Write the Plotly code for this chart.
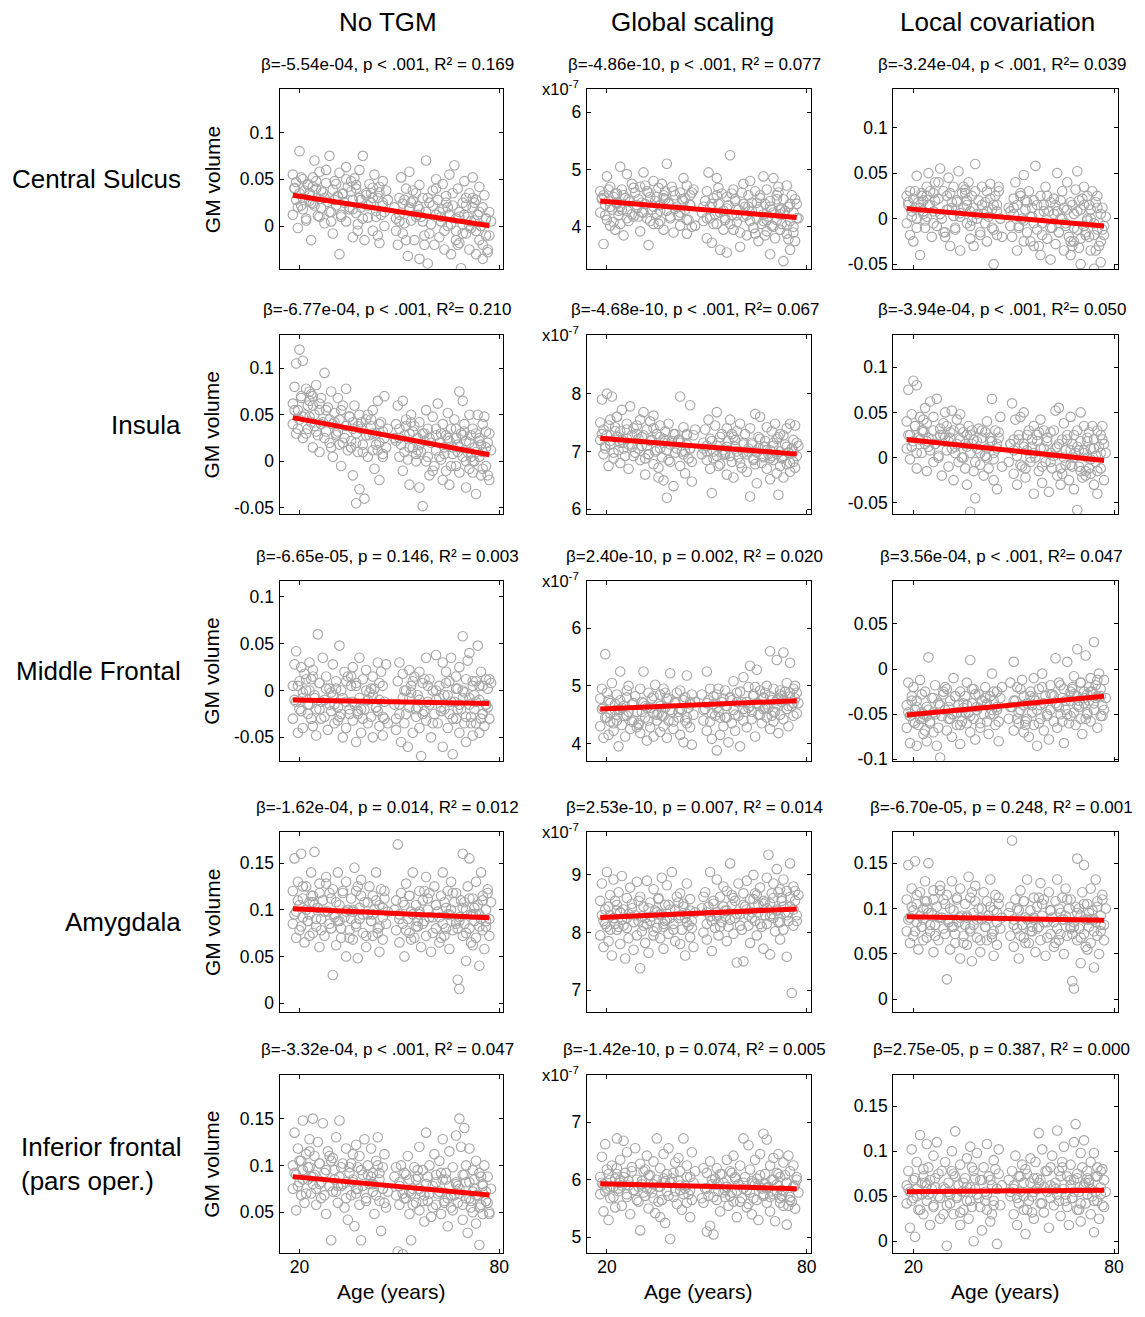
import plotly.graph_objects as go

# ---------------- data ----------------
ages = [
    18, 18, 18.5, 19, 19, 19.5, 20, 20, 20.5, 21, 21, 21.5, 22, 22.5, 23,
    23, 23.5, 24, 24, 24.5, 25, 25.5, 26, 26, 26.5, 27, 27.5, 28, 28.5, 29,
    29.5, 30, 30, 30.5, 31, 31.5, 32, 32, 32.5, 33, 33.5, 34, 34, 34.5, 35,
    35.5, 36, 36, 36.5, 37, 37, 37.5, 38, 38, 38.5, 39, 39.5, 40, 40.5, 41,
    41.5, 42, 42, 42.5, 43, 43.5, 44, 44, 44.5, 45, 45, 45.5, 46, 48.5, 49,
    49.5, 50, 50, 50.5, 51, 51, 51.5, 52, 52.5, 53, 53, 53.5, 54, 54.5, 55,
    55.5, 56, 56, 56.5, 57, 57.5, 58, 58, 58.5, 59, 59.5, 60, 60.5, 61, 61,
    61.5, 62, 62.5, 63, 63, 63.5, 64, 64.5, 65, 65, 65.5, 66, 66.5, 67, 67,
    67.5, 68, 68, 68.5, 69, 69, 69.5, 70, 70, 70.5, 71, 71, 71.5, 72, 72,
    72.5, 73, 73, 73.5, 74, 74, 74.5, 75, 75, 75.5, 76, 76, 76.5, 77, 77.5,
]
ages_extra = [
    18.5, 19.5, 20.5, 21, 22, 22.5, 23.5, 23,
    24.5, 25, 26, 26.5, 27.5, 28, 29, 24,
    30.5, 31, 32.5, 33, 34, 35, 29.5, 31.5,
    36, 37, 38.5, 39, 40, 40.5, 35.5, 37.5,
    42, 43, 44, 45, 45.5, 41.5, 43.5, 46.5,
    50, 51.5, 52, 53, 54, 55, 49, 53.5,
    56, 57, 58.5, 59, 60, 61, 55.5, 57.5,
    62, 63.5, 64, 65.5, 66, 67, 62.5, 64.5,
    68, 69, 70, 71, 72, 67.5, 69.5, 71.5,
    73, 74, 75, 76, 77, 72.5, 74.5, 76.5,
]

regions = ["Central Sulcus", "Insula", "Middle Frontal", "Amygdala",
           "Inferior frontal<br>(pars oper.)"]
methods = ["No TGM", "Global scaling", "Local covariation"]

# Central Sulcus
central_no_tgm = [
    0.055, 0.012, 0.041, 0.028, 0.047, -0.002, 0.035, 0.080, 0.022, 0.050, 0.018, 0.038, 0.006, 0.044, 0.027,
    0.033, -0.015, 0.052, 0.024, 0.070, 0.040, 0.011, 0.029, 0.058, 0.019, 0.036, 0.003, 0.046, 0.026, 0.075,
    0.015, 0.039, -0.008, 0.048, 0.022, 0.031, -0.030, 0.057, 0.010, 0.034, 0.025, 0.063, 0.005, 0.042, 0.018,
    0.037, -0.012, 0.028, 0.051, 0.014, 0.044, 0.002, 0.030, 0.060, 0.020, 0.075, -0.015, 0.033, 0.009, 0.045,
    0.025, 0.041, -0.005, 0.055, 0.016, 0.030, -0.018, 0.036, 0.012, 0.048, 0.022, 0.000, 0.038, 0.020, 0.008,
    -0.020, 0.030, 0.012, 0.052, -0.008, 0.024, 0.003, 0.040, -0.032, 0.018, 0.058, 0.006, 0.027, -0.015, 0.035,
    0.021, -0.035, 0.044, 0.010, 0.030, -0.010, 0.070, 0.015, -0.040, 0.025, 0.002, 0.038, -0.020, 0.050, 0.012,
    0.028, -0.012, 0.005, 0.045, 0.018, -0.025, 0.032, 0.000, 0.055, 0.012, -0.030, 0.022, 0.065, 0.008, -0.005,
    0.040, -0.018, 0.015, -0.045, 0.025, 0.002, 0.048, -0.008, 0.030, 0.010, -0.025, 0.035, -0.002, 0.020, 0.052,
    0.006, -0.030, 0.028, 0.012, -0.015, 0.042, 0.000, -0.035, 0.020, 0.033, -0.010, 0.008, -0.028, 0.015, 0.005,
]
central_no_tgm_extra = [
    0.040, 0.020, 0.052, 0.030, 0.008, 0.045, 0.025, 0.035,
    0.022, 0.048, 0.010, 0.038, 0.030, 0.060, 0.015, 0.042,
    0.028, 0.045, 0.012, 0.035, 0.050, 0.020, 0.005, 0.032,
    0.018, 0.040, 0.028, 0.008, 0.035, 0.022, 0.048, -0.005,
    0.030, 0.010, 0.042, 0.025, 0.015, 0.035, -0.010, 0.028,
    0.005, 0.028, -0.015, 0.020, 0.038, 0.010, -0.005, 0.025,
    0.018, 0.005, 0.030, -0.008, 0.022, 0.040, 0.012, -0.020,
    0.015, -0.005, 0.025, 0.002, 0.035, -0.015, 0.010, 0.020,
    0.010, -0.008, 0.022, 0.000, 0.030, -0.020, 0.012, 0.005,
    -0.005, 0.015, -0.020, 0.008, -0.010, 0.025, 0.000, -0.025,
]
central_global_e7 = [
    4.62, 4.25, 4.48, 3.70, 4.55, 4.38, 4.88, 4.12, 4.45, 4.02, 4.70, 4.30, 4.52, 3.95, 4.40,
    4.58, 4.20, 5.05, 4.35, 4.65, 3.85, 4.50, 4.28, 4.92, 4.10, 4.44, 4.75, 4.18, 4.60, 4.33,
    4.48, 3.92, 4.70, 4.25, 4.95, 4.40, 4.15, 4.62, 3.68, 4.52, 4.30, 4.80, 4.05, 4.45, 4.22,
    4.68, 4.38, 4.10, 4.75, 4.50, 3.95, 4.62, 4.28, 5.10, 4.42, 4.18, 4.70, 3.90, 4.55, 4.35,
    4.20, 4.60, 4.02, 4.48, 4.85, 4.30, 3.88, 4.72, 4.12, 4.55, 4.38, 4.00, 4.65, 4.25, 4.10,
    4.45, 3.80, 4.62, 4.95, 4.15, 4.35, 3.72, 4.50, 4.22, 4.85, 4.05, 4.40, 3.60, 4.58, 4.28,
    4.12, 4.52, 3.55, 4.38, 5.25, 4.20, 4.65, 3.95, 4.45, 4.08, 4.30, 3.65, 4.60, 4.18, 4.75,
    4.35, 3.85, 4.55, 4.10, 4.80, 4.28, 3.98, 4.62, 4.15, 4.42, 3.75, 4.50, 4.05, 4.88, 4.22,
    4.40, 3.92, 4.65, 4.18, 3.52, 4.45, 4.02, 4.85, 4.25, 3.80, 4.55, 4.12, 4.70, 3.95, 4.30,
    4.05, 4.48, 3.40, 4.28, 4.72, 3.88, 4.35, 4.10, 3.60, 4.55, 4.00, 4.25, 3.75, 4.40, 4.15,
]
central_global_e7_extra = [
    4.50, 4.20, 4.65, 4.35, 4.08, 4.58, 4.28, 4.42,
    4.30, 4.55, 4.15, 4.48, 4.22, 4.68, 4.38, 4.05,
    4.42, 4.25, 4.60, 4.10, 4.35, 4.52, 4.18, 4.72,
    4.28, 4.55, 4.40, 4.15, 4.62, 4.32, 4.05, 4.48,
    4.25, 4.45, 4.12, 4.38, 4.60, 4.20, 4.50, 4.02,
    4.15, 4.40, 4.05, 4.55, 4.25, 3.95, 4.35, 4.68,
    4.32, 4.05, 4.48, 4.20, 3.90, 4.40, 4.15, 4.58,
    4.20, 4.42, 3.98, 4.30, 4.55, 4.10, 4.35, 3.88,
    4.12, 4.35, 4.00, 4.48, 4.22, 3.85, 4.30, 4.60,
    4.25, 4.02, 4.40, 3.90, 4.15, 4.32, 3.78, 4.48,
]
central_local = [
    0.025, -0.005, 0.015, 0.030, -0.018, 0.008, 0.022, -0.025, 0.012, 0.047, 0.000, 0.018, -0.040, 0.028, 0.005,
    0.020, -0.010, 0.035, 0.002, 0.050, 0.015, -0.020, 0.028, 0.008, 0.040, -0.008, 0.022, 0.055, 0.000, 0.030,
    -0.015, 0.025, 0.010, 0.045, -0.030, 0.018, 0.003, 0.035, -0.012, 0.020, 0.052, 0.006, -0.035, 0.028, 0.012,
    0.032, -0.005, 0.015, 0.040, -0.022, 0.008, 0.025, -0.030, 0.012, 0.060, 0.000, 0.020, -0.015, 0.035, 0.005,
    0.018, -0.025, 0.030, 0.002, 0.038, -0.010, 0.015, -0.050, 0.025, 0.008, -0.018, 0.035, 0.000, 0.012, -0.008,
    -0.020, 0.022, 0.005, 0.040, -0.035, 0.015, -0.008, 0.028, 0.000, 0.048, -0.025, 0.010, -0.015, 0.030, 0.002,
    0.012, -0.030, 0.020, 0.058, -0.012, 0.005, -0.040, 0.025, -0.005, 0.015, 0.035, -0.022, 0.008, -0.045, 0.018,
    -0.010, 0.022, -0.028, 0.008, 0.050, -0.015, 0.000, 0.030, -0.035, 0.012, -0.005, 0.040, -0.020, 0.018, -0.040,
    0.015, -0.025, 0.005, 0.032, -0.012, 0.052, -0.032, 0.010, -0.050, 0.022, -0.008, 0.035, -0.018, 0.000, 0.025,
    -0.020, 0.010, -0.035, 0.030, -0.005, -0.055, 0.018, -0.012, 0.025, -0.030, 0.005, -0.048, 0.012, -0.018, 0.002,
]
central_local_extra = [
    0.018, 0.002, 0.030, -0.010, 0.012, 0.025, -0.002, 0.008,
    0.015, 0.030, -0.005, 0.020, 0.040, 0.005, -0.015, 0.025,
    0.010, 0.028, -0.010, 0.018, 0.002, 0.035, -0.020, 0.012,
    0.020, -0.008, 0.030, 0.005, -0.018, 0.015, 0.028, -0.002,
    0.008, 0.022, -0.012, 0.015, 0.030, -0.005, 0.010, -0.020,
    0.012, -0.010, 0.025, -0.002, 0.018, -0.025, 0.008, 0.020,
    -0.005, 0.015, -0.018, 0.008, 0.025, -0.010, 0.002, -0.030,
    0.005, -0.015, 0.020, -0.008, 0.010, -0.025, 0.015, 0.000,
    -0.010, 0.008, -0.022, 0.015, -0.002, -0.030, 0.020, -0.015,
    0.000, -0.018, 0.012, -0.025, -0.008, 0.015, -0.035, -0.012,
]

# Insula
insula_no_tgm = [
    0.062, 0.040, 0.080, 0.105, 0.030, 0.055, 0.120, 0.045, 0.070, 0.025, 0.108, 0.050, 0.078, 0.035, 0.065,
    0.048, 0.072, 0.015, 0.060, 0.038, 0.082, 0.028, 0.055, 0.010, 0.068, 0.042, 0.095, 0.032, 0.058, 0.020,
    0.075, 0.040, 0.005, 0.052, 0.030, 0.068, 0.018, 0.045, -0.005, 0.060, 0.025, 0.038, 0.078, 0.012, 0.048,
    0.022, -0.015, 0.042, 0.060, -0.045, 0.030, 0.010, 0.050, -0.030, 0.035, 0.018, -0.040, 0.045, 0.005, 0.028,
    0.038, 0.012, 0.055, -0.008, 0.030, 0.065, 0.020, -0.020, 0.042, 0.008, 0.032, 0.070, 0.015, 0.025, 0.040,
    0.060, 0.005, 0.035, 0.018, 0.065, -0.010, 0.028, 0.045, 0.002, 0.030, -0.025, 0.050, 0.015, 0.038, 0.008,
    0.025, -0.028, 0.042, 0.010, -0.048, 0.030, 0.055, 0.000, 0.035, -0.015, 0.020, 0.048, -0.005, 0.028, 0.012,
    0.062, 0.005, 0.030, -0.020, 0.040, 0.015, -0.010, 0.052, 0.022, -0.025, 0.035, 0.008, 0.045, -0.005, 0.025,
    0.018, 0.075, -0.012, 0.030, 0.065, 0.005, 0.040, -0.028, 0.022, 0.010, 0.050, -0.008, 0.028, 0.000, 0.035,
    0.015, -0.035, 0.030, 0.050, 0.005, 0.025, -0.015, 0.040, 0.010, 0.048, -0.005, 0.032, 0.020, -0.020, 0.012,
]
insula_no_tgm_extra = [
    0.055, 0.035, 0.068, 0.048, 0.030, 0.060, 0.042, 0.075,
    0.050, 0.032, 0.062, 0.040, 0.025, 0.055, 0.045, 0.070,
    0.042, 0.028, 0.055, 0.020, 0.038, 0.048, 0.015, 0.032,
    0.035, 0.020, 0.042, 0.010, 0.028, 0.050, 0.015, 0.038,
    0.030, 0.018, 0.040, 0.005, 0.025, 0.045, 0.012, 0.035,
    0.025, 0.010, 0.038, 0.015, 0.032, 0.000, 0.022, 0.042,
    0.018, 0.030, 0.005, 0.025, -0.010, 0.035, 0.012, 0.022,
    0.020, 0.008, 0.028, -0.005, 0.015, 0.035, 0.002, 0.025,
    0.015, 0.028, 0.000, 0.020, -0.012, 0.010, 0.032, 0.005,
    0.010, 0.022, -0.008, 0.015, 0.030, 0.000, 0.018, -0.015,
]
insula_global_e7 = [
    7.50, 7.20, 7.90, 6.95, 7.38, 7.05, 8.00, 7.28, 6.75, 7.55, 7.12, 7.95, 6.88, 7.42, 7.25,
    7.60, 7.02, 7.35, 6.80, 7.72, 7.15, 6.92, 7.48, 7.22, 6.70, 7.78, 7.08, 7.40, 6.98, 7.30,
    7.05, 7.55, 6.85, 7.25, 7.68, 6.60, 7.38, 7.10, 6.95, 7.52, 7.20, 6.78, 7.62, 7.00, 7.30,
    6.55, 7.25, 7.45, 6.90, 7.15, 6.50, 7.35, 7.02, 6.20, 7.48, 6.82, 7.18, 6.40, 7.30, 7.05,
    7.20, 6.75, 7.95, 7.00, 7.42, 6.62, 7.12, 7.30, 6.88, 7.80, 7.05, 6.48, 7.28, 6.95, 7.15,
    7.38, 6.85, 7.10, 7.55, 6.70, 7.22, 6.28, 7.00, 7.45, 6.92, 7.68, 7.15, 6.78, 7.30, 7.02,
    6.95, 7.40, 6.60, 7.18, 7.55, 6.82, 7.25, 6.55, 7.08, 7.35, 6.90, 7.48, 6.72, 7.12, 6.98,
    7.30, 6.65, 7.05, 7.40, 6.22, 7.15, 6.88, 7.65, 6.98, 6.45, 7.25, 7.60, 6.80, 7.08, 6.92,
    7.18, 6.70, 7.42, 6.95, 7.02, 6.52, 7.35, 6.85, 7.10, 7.48, 6.62, 7.22, 6.25, 7.00, 7.30,
    6.90, 7.28, 6.55, 7.12, 6.78, 7.40, 6.98, 7.48, 6.65, 7.05, 7.20, 6.82, 7.45, 6.92, 7.10,
]
insula_global_e7_extra = [
    7.30, 7.10, 7.45, 7.18, 6.98, 7.35, 7.25, 7.60,
    7.20, 7.05, 7.38, 7.12, 7.28, 6.92, 7.45, 7.15,
    7.10, 7.28, 6.95, 7.18, 7.40, 7.02, 7.22, 6.88,
    7.05, 7.22, 6.85, 7.12, 7.30, 6.98, 6.72, 7.18,
    7.15, 6.95, 7.28, 7.05, 6.82, 7.20, 7.00, 7.38,
    7.00, 7.18, 6.88, 7.10, 7.25, 6.95, 7.05, 6.75,
    7.08, 6.92, 7.20, 7.00, 6.80, 7.15, 6.98, 7.30,
    6.95, 7.12, 6.85, 7.05, 7.22, 6.90, 7.00, 6.78,
    7.02, 6.88, 7.15, 6.95, 6.75, 7.08, 6.92, 7.25,
    6.92, 7.08, 6.80, 7.00, 7.15, 6.88, 6.98, 6.72,
]
insula_local = [
    0.040, 0.010, 0.075, 0.025, -0.002, 0.048, 0.085, 0.018, 0.035, -0.012, 0.080, 0.022, 0.045, 0.005, 0.030,
    0.028, 0.055, -0.015, 0.038, 0.012, 0.062, 0.020, -0.005, 0.045, 0.015, 0.065, 0.002, 0.032, -0.020, 0.025,
    0.050, 0.008, 0.035, -0.010, 0.022, 0.052, -0.025, 0.030, 0.012, 0.042, -0.005, 0.020, 0.048, 0.000, 0.028,
    0.015, -0.030, 0.025, 0.035, -0.060, 0.005, 0.030, -0.015, 0.020, -0.045, 0.010, 0.032, -0.008, 0.022, -0.020,
    0.028, 0.000, 0.040, -0.012, 0.018, 0.065, 0.005, -0.025, 0.030, 0.010, -0.035, 0.022, 0.045, -0.005, 0.015,
    0.060, -0.018, 0.020, 0.042, 0.002, -0.030, 0.025, 0.045, -0.010, 0.015, 0.050, -0.022, 0.008, 0.030, -0.005,
    0.020, -0.040, 0.035, 0.000, 0.025, -0.015, 0.042, 0.010, -0.028, 0.030, -0.005, 0.018, -0.038, 0.028, 0.005,
    -0.012, 0.030, 0.052, -0.020, 0.012, 0.055, -0.030, 0.020, 0.000, 0.038, -0.008, 0.025, -0.025, 0.045, 0.008,
    0.015, -0.035, 0.025, 0.005, -0.058, 0.030, -0.010, 0.050, 0.018, -0.022, 0.008, 0.035, -0.015, 0.022, 0.000,
    0.028, -0.018, 0.010, 0.035, -0.030, 0.020, -0.005, 0.030, -0.040, 0.012, 0.025, -0.012, 0.035, -0.025, 0.005,
]
insula_local_extra = [
    0.025, 0.012, 0.035, 0.005, 0.020, 0.030, 0.015, 0.042,
    0.022, 0.008, 0.030, 0.015, 0.000, 0.025, 0.038, 0.018,
    0.018, 0.028, 0.005, 0.015, 0.032, 0.000, 0.022, 0.010,
    0.012, 0.025, -0.005, 0.018, 0.005, 0.030, -0.012, 0.015,
    0.010, 0.022, -0.002, 0.015, 0.028, 0.002, 0.018, -0.010,
    0.008, 0.020, -0.008, 0.012, 0.025, 0.000, 0.015, -0.012,
    0.005, 0.018, -0.010, 0.010, 0.022, -0.005, 0.012, 0.028,
    0.002, 0.015, -0.012, 0.008, 0.020, -0.008, 0.010, -0.018,
    0.000, 0.012, -0.015, 0.005, 0.018, -0.010, 0.008, -0.020,
    -0.002, 0.010, -0.015, 0.005, 0.015, -0.012, 0.002, 0.020,
]

# Middle Frontal
middle_frontal_no_tgm = [
    0.005, -0.030, 0.028, -0.012, 0.042, -0.045, 0.010, -0.020, 0.025, -0.008, -0.040, 0.018, 0.000, -0.025, 0.030,
    -0.015, 0.012, -0.038, 0.022, -0.005, -0.048, 0.060, -0.020, 0.008, -0.030, 0.035, -0.010, 0.015, -0.042, 0.002,
    -0.022, 0.028, -0.005, -0.035, 0.010, -0.018, 0.048, -0.028, 0.000, -0.050, 0.020, -0.012, -0.040, 0.015, -0.025,
    0.005, -0.032, 0.025, -0.015, -0.055, 0.008, -0.025, 0.035, -0.008, -0.045, 0.012, -0.020, 0.022, -0.035, -0.002,
    -0.028, 0.015, -0.050, 0.002, -0.018, 0.030, -0.038, -0.010, 0.020, -0.048, 0.005, -0.030, 0.028, -0.015, -0.042,
    0.010, -0.025, 0.030, -0.055, -0.008, 0.018, -0.035, 0.000, -0.060, 0.022, -0.018, 0.005, -0.045, 0.015, -0.028,
    -0.005, -0.040, 0.020, -0.070, 0.008, -0.022, 0.035, -0.032, -0.012, 0.012, -0.050, 0.000, -0.025, 0.038, -0.010,
    -0.035, 0.005, -0.018, 0.030, -0.060, -0.005, 0.020, -0.040, 0.010, -0.025, 0.035, -0.068, -0.012, 0.015, -0.030,
    0.002, -0.045, 0.025, -0.020, 0.058, -0.008, -0.035, 0.012, -0.055, 0.032, -0.015, 0.040, -0.028, 0.005, -0.048,
    -0.020, 0.010, -0.035, 0.048, -0.010, -0.045, 0.020, -0.025, 0.005, -0.038, 0.012, -0.015, 0.002, -0.030, 0.008,
]
middle_frontal_no_tgm_extra = [
    -0.010, 0.005, -0.022, -0.002, 0.012, -0.015, -0.030, 0.000,
    -0.008, -0.020, 0.008, -0.012, -0.028, 0.002, -0.015, 0.015,
    -0.015, 0.002, -0.025, -0.008, 0.010, -0.020, -0.002, -0.032,
    -0.012, 0.005, -0.020, -0.030, 0.000, -0.010, 0.015, -0.022,
    -0.005, -0.018, 0.008, -0.028, -0.012, 0.002, -0.022, -0.035,
    -0.015, 0.000, -0.025, -0.008, 0.010, -0.020, -0.030, -0.002,
    -0.010, -0.025, 0.005, -0.015, -0.035, 0.000, -0.018, 0.012,
    -0.008, -0.020, 0.008, -0.012, -0.030, 0.002, -0.022, -0.005,
    -0.015, 0.000, -0.028, -0.008, 0.010, -0.020, -0.002, -0.035,
    -0.012, 0.005, -0.025, -0.015, 0.012, -0.005, -0.030, -0.018,
]
middle_frontal_global_e7 = [
    4.78, 4.30, 4.95, 4.10, 4.62, 5.55, 4.45, 4.88, 4.15, 4.70, 4.38, 5.05, 4.22, 4.58, 4.85,
    4.50, 3.95, 4.75, 5.25, 4.32, 4.65, 4.12, 4.92, 4.48, 5.00, 4.25, 4.68, 4.40, 4.82, 4.55,
    4.35, 4.95, 4.18, 4.72, 5.25, 4.45, 4.05, 4.62, 4.88, 4.28, 4.78, 4.12, 4.52, 5.02, 4.40,
    4.68, 4.20, 4.85, 4.48, 4.95, 4.30, 4.62, 4.10, 4.78, 4.40, 5.22, 4.55, 4.25, 4.72, 4.88,
    4.45, 4.15, 4.92, 4.58, 4.02, 4.80, 4.35, 5.18, 4.62, 4.28, 4.72, 3.98, 4.50, 4.85, 4.40,
    4.60, 4.22, 5.25, 4.75, 4.38, 4.95, 4.08, 4.68, 4.48, 3.88, 4.85, 4.55, 4.15, 4.72, 4.30,
    4.92, 4.45, 4.65, 4.02, 4.80, 4.35, 5.08, 4.58, 4.22, 4.88, 4.48, 3.95, 4.72, 4.40, 5.15,
    4.55, 4.28, 4.98, 4.65, 5.35, 4.42, 4.82, 4.12, 4.70, 5.28, 4.50, 4.92, 4.35, 4.78, 4.60,
    4.88, 4.45, 5.00, 4.62, 4.25, 5.60, 4.75, 4.38, 4.95, 4.55, 5.45, 4.68, 4.18, 4.85, 4.50,
    4.72, 5.58, 4.42, 4.90, 4.60, 5.05, 4.30, 4.82, 5.40, 4.65, 4.95, 4.48, 4.78, 4.88, 4.70,
]
middle_frontal_global_e7_extra = [
    4.60, 4.45, 4.75, 4.52, 4.35, 4.68, 4.58, 4.40,
    4.62, 4.48, 4.80, 4.55, 4.38, 4.70, 4.28, 4.58,
    4.55, 4.70, 4.40, 4.62, 4.82, 4.50, 4.32, 4.65,
    4.65, 4.48, 4.78, 4.58, 4.38, 4.70, 4.52, 4.88,
    4.60, 4.75, 4.45, 4.68, 4.85, 4.55, 4.40, 4.72,
    4.70, 4.52, 4.82, 4.62, 4.45, 4.78, 4.58, 4.95,
    4.65, 4.80, 4.50, 4.72, 4.90, 4.60, 4.45, 4.75,
    4.72, 4.55, 4.85, 4.68, 4.50, 4.80, 4.62, 4.98,
    4.68, 4.82, 4.55, 4.75, 4.92, 4.62, 4.48, 4.78,
    4.75, 4.60, 4.88, 4.70, 4.52, 4.82, 4.65, 5.00,
]
middle_frontal_local = [
    -0.040, -0.065, -0.015, -0.052, -0.082, -0.030, -0.058, -0.020, -0.045, -0.085, -0.035, -0.062, -0.012, -0.048, -0.072,
    -0.055, -0.025, -0.080, -0.042, 0.013, -0.060, -0.032, -0.070, -0.048, -0.018, -0.085, -0.038, -0.098, -0.052, -0.028,
    -0.045, -0.068, -0.022, -0.055, -0.035, -0.075, -0.010, -0.050, -0.030, -0.062, -0.040, -0.083, -0.025, -0.058, -0.043,
    -0.030, -0.060, -0.015, -0.048, -0.070, 0.010, -0.038, -0.055, -0.022, -0.078, -0.042, -0.028, -0.065, -0.035, -0.050,
    -0.020, -0.058, -0.040, -0.072, -0.030, -0.005, -0.050, -0.035, -0.062, -0.025, -0.045, -0.080, -0.032, -0.055, -0.015,
    -0.042, -0.068, 0.008, -0.035, -0.055, -0.020, -0.060, -0.045, -0.012, -0.070, -0.030, -0.058, -0.038, -0.075, -0.025,
    -0.048, -0.010, -0.062, -0.035, -0.085, -0.022, -0.055, -0.040, -0.005, -0.068, -0.030, -0.050, -0.078, -0.018, -0.045,
    -0.028, -0.058, 0.012, -0.040, -0.065, -0.015, -0.050, -0.032, -0.082, -0.022, -0.045, 0.008, -0.060, -0.035, -0.052,
    -0.020, -0.048, -0.008, -0.062, -0.030, 0.022, -0.042, -0.055, -0.015, -0.072, -0.025, -0.038, 0.015, -0.050, -0.028,
    -0.035, -0.010, -0.058, -0.025, 0.030, -0.045, -0.018, -0.065, -0.030, -0.005, -0.052, -0.022, -0.040, -0.012, -0.032,
]
middle_frontal_local_extra = [
    -0.048, -0.035, -0.060, -0.042, -0.055, -0.028, -0.068, -0.050,
    -0.045, -0.058, -0.032, -0.050, -0.065, -0.040, -0.025, -0.052,
    -0.042, -0.055, -0.030, -0.048, -0.062, -0.038, -0.020, -0.050,
    -0.040, -0.052, -0.028, -0.045, -0.060, -0.035, -0.048, -0.022,
    -0.038, -0.050, -0.025, -0.042, -0.058, -0.032, -0.045, -0.020,
    -0.035, -0.048, -0.022, -0.040, -0.055, -0.030, -0.042, -0.062,
    -0.032, -0.045, -0.020, -0.038, -0.052, -0.028, -0.040, -0.060,
    -0.030, -0.042, -0.018, -0.035, -0.050, -0.025, -0.038, -0.058,
    -0.028, -0.040, -0.015, -0.032, -0.048, -0.022, -0.035, -0.055,
    -0.025, -0.038, -0.012, -0.030, -0.045, -0.020, -0.032, -0.052,
]

# Amygdala
amygdala_no_tgm = [
    0.120, 0.085, 0.155, 0.098, 0.070, 0.130, 0.105, 0.078, 0.160, 0.092, 0.112, 0.065, 0.125, 0.088, 0.108,
    0.095, 0.140, 0.075, 0.115, 0.162, 0.082, 0.102, 0.060, 0.128, 0.090, 0.110, 0.072, 0.135, 0.098, 0.118,
    0.080, 0.030, 0.122, 0.095, 0.062, 0.140, 0.088, 0.105, 0.070, 0.118, 0.092, 0.050, 0.130, 0.100, 0.078,
    0.112, 0.068, 0.098, 0.145, 0.082, 0.120, 0.048, 0.102, 0.090, 0.132, 0.075, 0.108, 0.060, 0.095, 0.125,
    0.088, 0.115, 0.072, 0.100, 0.140, 0.080, 0.105, 0.055, 0.122, 0.092, 0.068, 0.112, 0.085, 0.100, 0.078,
    0.170, 0.095, 0.065, 0.118, 0.085, 0.108, 0.050, 0.128, 0.090, 0.075, 0.115, 0.098, 0.140, 0.070, 0.105,
    0.082, 0.120, 0.095, 0.060, 0.110, 0.088, 0.135, 0.072, 0.100, 0.118, 0.055, 0.092, 0.125, 0.080, 0.105,
    0.098, 0.065, 0.115, 0.085, 0.140, 0.072, 0.102, 0.120, 0.058, 0.095, 0.130, 0.078, 0.108, 0.088, 0.118,
    0.025, 0.092, 0.015, 0.110, 0.072, 0.160, 0.085, 0.100, 0.045, 0.125, 0.080, 0.155, 0.095, 0.062, 0.112,
    0.088, 0.130, 0.070, 0.105, 0.040, 0.095, 0.140, 0.078, 0.115, 0.058, 0.100, 0.082, 0.122, 0.090, 0.108,
]
amygdala_no_tgm_extra = [
    0.095, 0.110, 0.082, 0.125, 0.100, 0.088, 0.115, 0.072,
    0.105, 0.090, 0.118, 0.078, 0.098, 0.128, 0.085, 0.108,
    0.092, 0.108, 0.080, 0.120, 0.098, 0.070, 0.112, 0.088,
    0.100, 0.085, 0.115, 0.095, 0.072, 0.108, 0.090, 0.125,
    0.095, 0.110, 0.082, 0.102, 0.120, 0.088, 0.075, 0.098,
    0.090, 0.105, 0.078, 0.115, 0.095, 0.082, 0.110, 0.068,
    0.098, 0.085, 0.112, 0.092, 0.075, 0.105, 0.088, 0.120,
    0.092, 0.108, 0.080, 0.100, 0.118, 0.085, 0.070, 0.095,
    0.088, 0.102, 0.075, 0.112, 0.095, 0.080, 0.108, 0.065,
    0.095, 0.082, 0.110, 0.088, 0.072, 0.102, 0.090, 0.118,
]
amygdala_global_e7 = [
    8.55, 7.95, 8.85, 8.20, 7.75, 8.40, 9.05, 8.10, 7.85, 8.65, 8.30, 7.60, 8.92, 8.15, 8.48,
    8.05, 8.70, 7.80, 8.35, 8.98, 8.12, 7.55, 8.60, 8.25, 7.90, 8.78, 8.42, 7.70, 8.30, 8.88,
    8.20, 7.38, 8.62, 8.02, 8.45, 7.82, 8.90, 8.15, 7.65, 8.52, 8.28, 7.95, 8.75, 8.38, 8.08,
    8.58, 7.90, 8.30, 8.95, 8.10, 7.72, 8.48, 8.22, 8.82, 7.98, 8.40, 9.05, 8.15, 7.85, 8.62,
    8.25, 7.80, 8.68, 8.05, 8.50, 7.60, 8.32, 8.85, 8.12, 7.92, 8.58, 8.20, 7.75, 8.42, 8.00,
    8.70, 8.15, 7.88, 8.45, 9.05, 8.28, 7.68, 8.55, 8.08, 8.92, 8.35, 7.95, 8.62, 8.18, 8.80,
    8.38, 7.85, 8.72, 8.10, 9.20, 8.48, 7.98, 8.60, 8.25, 7.48, 8.85, 8.32, 8.05, 8.68, 7.50,
    8.45, 8.90, 8.12, 8.58, 7.82, 8.35, 9.00, 8.20, 8.65, 7.95, 8.48, 8.78, 8.10, 8.55, 7.72,
    8.30, 8.95, 8.15, 9.35, 8.50, 7.62, 8.68, 8.25, 8.85, 8.02, 8.40, 9.10, 8.18, 8.75, 7.88,
    8.60, 8.05, 8.92, 8.35, 7.58, 8.72, 8.20, 9.20, 8.45, 6.95, 8.80, 8.12, 8.55, 8.30, 8.65,
]
amygdala_global_e7_extra = [
    8.30, 8.15, 8.45, 8.05, 8.25, 8.55, 8.10, 8.38,
    8.22, 8.40, 8.08, 8.32, 8.50, 8.18, 7.95, 8.35,
    8.28, 8.12, 8.42, 8.20, 8.02, 8.35, 8.55, 8.25,
    8.32, 8.15, 8.48, 8.25, 8.05, 8.40, 8.60, 8.20,
    8.30, 8.45, 8.18, 8.38, 8.08, 8.52, 8.25, 8.35,
    8.35, 8.20, 8.50, 8.28, 8.10, 8.45, 8.62, 8.30,
    8.38, 8.22, 8.55, 8.32, 8.12, 8.48, 8.28, 8.65,
    8.40, 8.25, 8.58, 8.35, 8.15, 8.50, 8.30, 8.68,
    8.42, 8.28, 8.60, 8.38, 8.18, 8.52, 8.32, 8.70,
    8.45, 8.30, 8.62, 8.40, 8.20, 8.55, 8.35, 8.72,
]
amygdala_local = [
    0.110, 0.075, 0.148, 0.090, 0.062, 0.122, 0.098, 0.070, 0.152, 0.085, 0.105, 0.055, 0.118, 0.080, 0.100,
    0.088, 0.130, 0.068, 0.108, 0.150, 0.075, 0.095, 0.052, 0.120, 0.082, 0.102, 0.065, 0.125, 0.090, 0.110,
    0.072, 0.022, 0.115, 0.088, 0.055, 0.130, 0.080, 0.098, 0.062, 0.110, 0.085, 0.045, 0.122, 0.092, 0.070,
    0.105, 0.060, 0.090, 0.135, 0.075, 0.112, 0.042, 0.095, 0.082, 0.125, 0.068, 0.100, 0.052, 0.088, 0.118,
    0.080, 0.108, 0.065, 0.092, 0.132, 0.072, 0.098, 0.048, 0.115, 0.085, 0.060, 0.105, 0.078, 0.095, 0.070,
    0.175, 0.088, 0.058, 0.110, 0.078, 0.100, 0.045, 0.120, 0.082, 0.068, 0.108, 0.090, 0.132, 0.062, 0.098,
    0.075, 0.112, 0.088, 0.052, 0.102, 0.080, 0.128, 0.065, 0.092, 0.110, 0.048, 0.085, 0.118, 0.072, 0.098,
    0.090, 0.058, 0.108, 0.078, 0.132, 0.065, 0.095, 0.112, 0.050, 0.088, 0.122, 0.070, 0.100, 0.080, 0.110,
    0.020, 0.085, 0.012, 0.102, 0.065, 0.155, 0.078, 0.092, 0.040, 0.118, 0.072, 0.148, 0.088, 0.055, 0.105,
    0.080, 0.122, 0.062, 0.098, 0.035, 0.088, 0.132, 0.070, 0.108, 0.050, 0.092, 0.075, 0.115, 0.082, 0.100,
]
amygdala_local_extra = [
    0.088, 0.102, 0.075, 0.115, 0.092, 0.080, 0.108, 0.065,
    0.095, 0.082, 0.110, 0.070, 0.090, 0.120, 0.078, 0.100,
    0.085, 0.100, 0.072, 0.112, 0.090, 0.062, 0.105, 0.080,
    0.092, 0.078, 0.108, 0.088, 0.065, 0.100, 0.082, 0.118,
    0.088, 0.102, 0.075, 0.095, 0.112, 0.080, 0.068, 0.090,
    0.082, 0.098, 0.070, 0.108, 0.088, 0.075, 0.102, 0.062,
    0.090, 0.078, 0.105, 0.085, 0.068, 0.098, 0.080, 0.112,
    0.085, 0.100, 0.072, 0.092, 0.110, 0.078, 0.062, 0.088,
    0.080, 0.095, 0.068, 0.105, 0.088, 0.072, 0.100, 0.058,
    0.088, 0.075, 0.102, 0.082, 0.065, 0.095, 0.085, 0.110,
]

# Inferior frontal (pars opercularis)
inferior_frontal_no_tgm = [
    0.100, 0.075, 0.135, 0.090, 0.052, 0.118, 0.082, 0.105, 0.068, 0.148, 0.095, 0.060, 0.112, 0.085, 0.128,
    0.098, 0.070, 0.150, 0.088, 0.110, 0.058, 0.125, 0.080, 0.102, 0.065, 0.145, 0.092, 0.048, 0.115, 0.078,
    0.020, 0.108, 0.072, 0.095, 0.130, 0.060, 0.088, 0.148, 0.078, 0.102, 0.055, 0.118, 0.082, 0.042, 0.098,
    0.068, 0.112, 0.085, 0.035, 0.122, 0.075, 0.098, 0.058, 0.110, 0.020, 0.090, 0.128, 0.065, 0.100, 0.080,
    0.118, 0.072, 0.092, 0.048, 0.105, 0.130, 0.062, 0.085, 0.030, 0.098, 0.075, 0.112, 0.055, 0.088, 0.068,
    0.008, 0.082, 0.058, 0.100, 0.070, 0.005, 0.092, 0.065, 0.110, 0.048, 0.085, 0.020, 0.075, 0.098, 0.060,
    0.088, 0.052, 0.120, 0.072, 0.095, 0.040, 0.080, 0.135, 0.062, 0.100, 0.045, 0.078, 0.112, 0.058, 0.090,
    0.070, 0.105, 0.048, 0.085, 0.128, 0.062, 0.092, 0.035, 0.078, 0.115, 0.055, 0.098, 0.068, 0.132, 0.082,
    0.060, 0.150, 0.075, 0.120, 0.042, 0.090, 0.140, 0.065, 0.100, 0.028, 0.082, 0.118, 0.055, 0.095, 0.072,
    0.085, 0.038, 0.105, 0.068, 0.015, 0.092, 0.058, 0.078, 0.048, 0.100, 0.072, 0.062, 0.088, 0.050, 0.075,
]
inferior_frontal_no_tgm_extra = [
    0.092, 0.078, 0.105, 0.085, 0.070, 0.098, 0.088, 0.115,
    0.090, 0.075, 0.102, 0.082, 0.068, 0.095, 0.110, 0.080,
    0.085, 0.072, 0.098, 0.080, 0.065, 0.092, 0.105, 0.078,
    0.082, 0.070, 0.095, 0.078, 0.062, 0.090, 0.102, 0.075,
    0.080, 0.068, 0.092, 0.075, 0.060, 0.088, 0.100, 0.072,
    0.078, 0.065, 0.090, 0.072, 0.058, 0.085, 0.098, 0.070,
    0.075, 0.062, 0.088, 0.070, 0.055, 0.082, 0.095, 0.068,
    0.072, 0.060, 0.085, 0.068, 0.052, 0.080, 0.092, 0.065,
    0.070, 0.058, 0.082, 0.065, 0.050, 0.078, 0.090, 0.062,
    0.068, 0.055, 0.080, 0.062, 0.048, 0.075, 0.088, 0.060,
]
inferior_frontal_global_e7 = [
    6.05, 5.75, 6.40, 5.92, 5.45, 6.62, 5.85, 6.18, 5.30, 6.00, 5.68, 6.25, 5.88, 5.52, 6.10,
    6.72, 5.80, 6.35, 5.95, 5.55, 6.68, 6.12, 5.70, 6.48, 5.90, 5.40, 6.22, 5.82, 6.55, 6.00,
    5.62, 6.28, 5.12, 5.98, 6.15, 5.72, 6.42, 5.85, 5.50, 6.08, 5.78, 6.32, 5.92, 5.42, 6.72,
    5.88, 5.35, 6.20, 5.65, 6.45, 5.95, 5.25, 6.10, 5.80, 6.55, 4.97, 6.02, 5.70, 6.30, 5.58,
    6.38, 5.82, 6.15, 5.48, 6.72, 5.90, 5.60, 6.25, 5.75, 6.05, 5.35, 6.48, 5.95, 5.68, 6.20,
    5.85, 5.10, 6.12, 5.72, 5.20, 6.32, 5.92, 5.05, 6.02, 5.65, 6.20, 5.80, 5.45, 6.10, 5.95,
    5.70, 6.35, 5.88, 5.55, 6.15, 5.78, 6.42, 5.62, 6.05, 5.35, 5.92, 6.25, 5.68, 6.72, 5.85,
    6.05, 5.52, 6.60, 5.78, 6.18, 5.40, 5.95, 6.35, 5.65, 6.02, 5.30, 6.45, 5.85, 6.80, 5.72,
    6.10, 5.60, 6.70, 5.88, 6.25, 5.45, 6.00, 6.38, 5.75, 5.28, 6.12, 5.92, 6.45, 5.68, 6.05,
    5.82, 6.30, 5.55, 6.08, 5.22, 5.95, 6.42, 5.70, 6.15, 5.62, 5.88, 6.25, 5.50, 6.00, 5.78,
]
inferior_frontal_global_e7_extra = [
    5.95, 5.80, 6.10, 5.88, 5.70, 6.02, 5.85, 6.20,
    5.90, 6.05, 5.75, 5.98, 6.15, 5.82, 5.65, 6.00,
    5.92, 5.78, 6.08, 5.85, 5.68, 6.00, 5.88, 6.18,
    5.88, 6.02, 5.72, 5.95, 6.12, 5.80, 5.62, 5.98,
    5.90, 5.75, 6.05, 5.82, 5.65, 5.98, 5.85, 6.15,
    5.85, 6.00, 5.70, 5.92, 6.10, 5.78, 5.60, 5.95,
    5.88, 5.72, 6.02, 5.80, 5.62, 5.95, 5.82, 6.12,
    5.82, 5.98, 5.68, 5.90, 6.08, 5.75, 5.58, 5.92,
    5.85, 5.70, 6.00, 5.78, 5.60, 5.92, 5.80, 6.10,
    5.80, 5.95, 5.65, 5.88, 6.05, 5.72, 5.55, 5.90,
]
inferior_frontal_local = [
    0.062, 0.042, 0.078, 0.015, 0.055, 0.102, 0.048, 0.068, 0.005, 0.088, 0.058, 0.035, 0.118, 0.052, 0.072,
    0.030, 0.065, 0.108, 0.045, 0.082, 0.018, 0.058, 0.095, 0.038, 0.070, 0.110, 0.050, 0.025, 0.078, 0.060,
    0.088, 0.040, -0.005, 0.065, 0.052, 0.100, 0.030, 0.075, 0.122, 0.048, 0.062, 0.018, 0.085, 0.055, 0.035,
    0.070, 0.045, 0.092, 0.025, 0.060, 0.105, 0.038, 0.078, 0.000, 0.058, 0.098, 0.048, 0.068, 0.012, 0.082,
    0.055, 0.108, 0.035, 0.072, 0.022, 0.062, 0.090, 0.045, 0.080, -0.003, 0.058, 0.102, 0.040, 0.068, 0.050,
    0.078, 0.030, 0.062, 0.095, 0.048, 0.018, 0.072, 0.055, 0.085, 0.035, 0.065, 0.008, 0.075, 0.045, 0.092,
    0.050, 0.070, 0.025, 0.088, 0.058, 0.120, 0.042, 0.068, 0.102, 0.032, 0.078, 0.055, 0.015, 0.082, 0.062,
    0.095, 0.040, 0.065, 0.123, 0.052, 0.078, 0.028, 0.088, 0.058, 0.105, 0.045, 0.072, 0.018, 0.062, 0.085,
    0.048, 0.110, 0.068, 0.130, 0.035, 0.075, 0.055, 0.098, 0.022, 0.082, 0.060, 0.112, 0.042, 0.070, 0.052,
    0.065, 0.030, 0.088, 0.050, 0.098, 0.010, 0.072, 0.045, 0.082, 0.025, 0.060, 0.078, 0.040, 0.068, 0.055,
]
inferior_frontal_local_extra = [
    0.058, 0.045, 0.070, 0.050, 0.035, 0.065, 0.055, 0.080,
    0.052, 0.068, 0.040, 0.060, 0.075, 0.048, 0.030, 0.062,
    0.055, 0.042, 0.072, 0.050, 0.032, 0.065, 0.058, 0.078,
    0.060, 0.045, 0.070, 0.052, 0.038, 0.068, 0.055, 0.082,
    0.052, 0.068, 0.040, 0.058, 0.075, 0.045, 0.030, 0.062,
    0.058, 0.042, 0.072, 0.050, 0.035, 0.065, 0.055, 0.080,
    0.055, 0.070, 0.042, 0.060, 0.078, 0.048, 0.032, 0.065,
    0.060, 0.045, 0.072, 0.052, 0.038, 0.068, 0.058, 0.082,
    0.055, 0.070, 0.042, 0.062, 0.078, 0.048, 0.035, 0.065,
    0.058, 0.045, 0.072, 0.052, 0.038, 0.068, 0.055, 0.080,
]

# regression fits: slope per year (global-scaling column in units of 1e-7) and fitted value at first age
fit_ages = [18, 77]
betas = [
    [-5.54e-4, -4.86e-3, -3.24e-4],
    [-6.77e-4, -4.68e-3, -3.94e-4],
    [-6.65e-5, 2.40e-3, 3.56e-4],
    [-1.62e-4, 2.53e-3, -6.70e-5],
    [-3.32e-4, -1.42e-3, 2.75e-5],
]
fit_start = [
    [0.033, 4.45, 0.011],
    [0.047, 7.23, 0.020],
    [-0.010, 4.60, -0.051],
    [0.101, 8.26, 0.091],
    [0.088, 5.93, 0.055],
]

stat_titles = [
    ["β=-5.54e-04, p &lt; .001, R² = 0.169",
     "β=-4.86e-10, p &lt; .001, R² = 0.077",
     "β=-3.24e-04, p &lt; .001, R²= 0.039"],
    ["β=-6.77e-04, p &lt; .001, R²= 0.210",
     "β=-4.68e-10, p &lt; .001, R²= 0.067",
     "β=-3.94e-04, p &lt; .001, R²= 0.050"],
    ["β=-6.65e-05, p = 0.146, R² = 0.003",
     "β=2.40e-10, p = 0.002, R² = 0.020",
     "β=3.56e-04, p &lt; .001, R²= 0.047"],
    ["β=-1.62e-04, p = 0.014, R² = 0.012",
     "β=2.53e-10, p = 0.007, R² = 0.014",
     "β=-6.70e-05, p = 0.248, R² = 0.001"],
    ["β=-3.32e-04, p &lt; .001, R² = 0.047",
     "β=-1.42e-10, p = 0.074, R² = 0.005",
     "β=2.75e-05, p = 0.387, R² = 0.000"],
]

x_ticks = [20, 80]
y_ticks = [
    [[0, 0.05, 0.1], [4, 5, 6], [-0.05, 0, 0.05, 0.1]],
    [[-0.05, 0, 0.05, 0.1], [6, 7, 8], [-0.05, 0, 0.05, 0.1]],
    [[-0.05, 0, 0.05, 0.1], [4, 5, 6], [-0.1, -0.05, 0, 0.05]],
    [[0, 0.05, 0.1, 0.15], [7, 8, 9], [0, 0.05, 0.1, 0.15]],
    [[0.05, 0.1, 0.15], [5, 6, 7], [0, 0.05, 0.1, 0.15]],
]

values = [
    [central_no_tgm + central_no_tgm_extra,
     central_global_e7 + central_global_e7_extra,
     central_local + central_local_extra],
    [insula_no_tgm + insula_no_tgm_extra,
     insula_global_e7 + insula_global_e7_extra,
     insula_local + insula_local_extra],
    [middle_frontal_no_tgm + middle_frontal_no_tgm_extra,
     middle_frontal_global_e7 + middle_frontal_global_e7_extra,
     middle_frontal_local + middle_frontal_local_extra],
    [amygdala_no_tgm + amygdala_no_tgm_extra,
     amygdala_global_e7 + amygdala_global_e7_extra,
     amygdala_local + amygdala_local_extra],
    [inferior_frontal_no_tgm + inferior_frontal_no_tgm_extra,
     inferior_frontal_global_e7 + inferior_frontal_global_e7_extra,
     inferior_frontal_local + inferior_frontal_local_extra],
]
all_ages = ages + ages_extra

# ---------------- layout geometry (pixels) ----------------
W, H = 1145, 1317
cols_px = [(281, 506), (590, 815), (898, 1124)]
rows_px = [(90, 271), (337, 518), (585, 766), (838, 1019), (1082, 1262)]
x_range = [14.0, 81.2]
y_ranges = [
    [[-0.046, 0.146], [3.26, 6.40], [-0.0555, 0.142]],
    [[-0.057, 0.136], [5.91, 9.02], [-0.063, 0.136]],
    [[-0.075, 0.117], [3.70, 6.82], [-0.1016, 0.0976]],
    [[-0.0096, 0.183], [6.62, 9.74], [-0.014, 0.184]],
    [[0.006, 0.197], [4.72, 7.83], [-0.0135, 0.185]],
]

FONT = "Liberation Sans, Arial, Helvetica, sans-serif"
GREY = "#a6a6a6"


def fmt(v):
    return "0" if v == 0 else f"{v:g}"


fig = go.Figure()
layout = {}
annotations = []

for r in range(5):
    y0, y1 = rows_px[r]
    for c in range(3):
        x0, x1 = cols_px[c]
        k = r * 3 + c + 1
        xref = "x" if k == 1 else f"x{k}"
        yref = "y" if k == 1 else f"y{k}"
        xkey = "xaxis" if k == 1 else f"xaxis{k}"
        ykey = "yaxis" if k == 1 else f"yaxis{k}"

        fig.add_trace(go.Scatter(
            x=all_ages, y=values[r][c], mode="markers",
            marker=dict(symbol="circle-open", size=9.5, color=GREY,
                        line=dict(width=1.1, color=GREY)),
            xaxis=xref, yaxis=yref, showlegend=False, hoverinfo="skip"))
        fit_y = [fit_start[r][c] + betas[r][c] * (a - fit_ages[0]) for a in fit_ages]
        fig.add_trace(go.Scatter(
            x=fit_ages, y=fit_y, mode="lines",
            line=dict(color="#ff0000", width=5),
            xaxis=xref, yaxis=yref, showlegend=False, hoverinfo="skip"))

        common = dict(showline=True, mirror="ticks", linecolor="black", linewidth=1.2,
                      ticks="inside", ticklen=4, tickcolor="black", tickwidth=1,
                      showgrid=False, zeroline=False,
                      tickfont=dict(family=FONT, size=17.5, color="black"))
        layout[xkey] = dict(domain=[x0 / W, x1 / W], range=x_range, anchor=yref,
                            tickmode="array", tickvals=x_ticks,
                            ticktext=[str(t) for t in x_ticks],
                            showticklabels=(r == 4), ticklabelstandoff=-2, **common)
        layout[ykey] = dict(domain=[1 - y1 / H, 1 - y0 / H], range=y_ranges[r][c],
                            anchor=xref, tickmode="array", tickvals=y_ticks[r][c],
                            ticktext=[fmt(t) for t in y_ticks[r][c]],
                            ticklabelstandoff=1, **common)

        # stats subtitle
        annotations.append(dict(
            text=stat_titles[r][c], x=((x0 + x1) / 2 - 4) / W, y=1 - (y0 - 25) / H,
            xref="paper", yref="paper", xanchor="center", yanchor="middle",
            showarrow=False, font=dict(family=FONT, size=17, color="black")))
        if c == 1:
            annotations.append(dict(
                text="x10<sup>-7</sup>", x=543 / W, y=1 - (y0 - 1) / H,
                xref="paper", yref="paper", xanchor="left", yanchor="middle",
                showarrow=False, font=dict(family=FONT, size=16.5, color="black")))
        if c == 0:
            annotations.append(dict(
                text="GM volume", x=213 / W, y=1 - ((y0 + y1) / 2) / H, textangle=-90,
                xref="paper", yref="paper", xanchor="center", yanchor="middle",
                showarrow=False, font=dict(family=FONT, size=21, color="black")))
        if r == 4:
            annotations.append(dict(
                text="Age (years)", x=((x0 + x1) / 2) / W, y=1 - 1300 / H,
                xref="paper", yref="paper", xanchor="center", yanchor="middle",
                showarrow=False, font=dict(family=FONT, size=21, color="black")))

    annotations.append(dict(
        text=regions[r], x=184 / W, y=1 - ((y0 + y1) / 2) / H,
        xref="paper", yref="paper", xanchor="right", yanchor="middle", align="left",
        showarrow=False, font=dict(family=FONT, size=26, color="black")))

title_x = [390, 696, 1003]
for c in range(3):
    annotations.append(dict(
        text=methods[c], x=title_x[c] / W, y=1 - 22 / H,
        xref="paper", yref="paper", xanchor="center", yanchor="middle",
        showarrow=False, font=dict(family=FONT, size=26, color="black")))

fig.update_layout(
    width=W, height=H, margin=dict(l=0, r=0, t=0, b=0),
    paper_bgcolor="white", plot_bgcolor="white",
    annotations=annotations, font=dict(family=FONT, color="black"),
    **layout)

fig.write_html("out.html")
